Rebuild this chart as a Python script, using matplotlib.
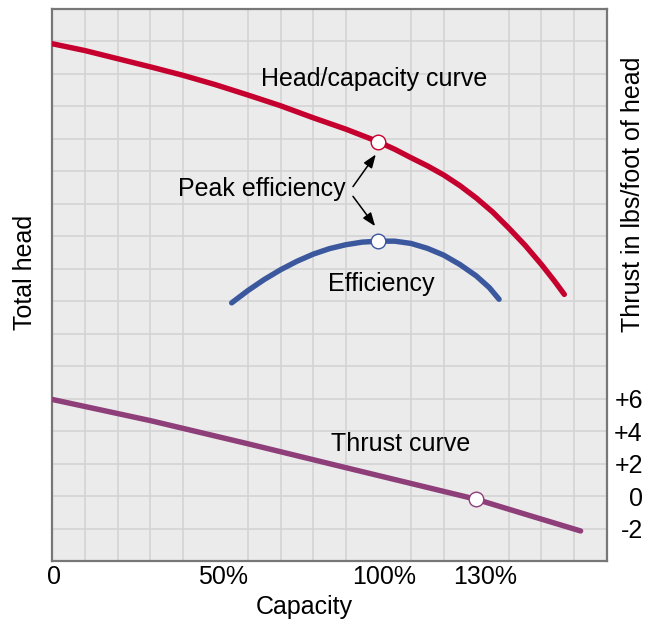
import matplotlib
matplotlib.use("Agg")
import matplotlib.pyplot as plt
from matplotlib.transforms import ScaledTranslation

plt.rcParams['font.family'] = ['Liberation Sans', 'DejaVu Sans']

# Capacity (%) and curve values (head/efficiency in grid units, thrust in lbs/ft of head)
head_x = [0, 10, 20, 30, 40, 50, 60, 70, 80, 90, 100, 105, 110, 115, 120, 125, 130, 135, 140,
          145, 150, 154, 157]
head_y = [15.93, 15.72, 15.47, 15.22, 14.96, 14.67, 14.35, 14.02, 13.65, 13.30, 12.91, 12.68,
          12.42, 12.17, 11.89, 11.56, 11.18, 10.75, 10.25, 9.72, 9.13, 8.62, 8.21]
eff_x = [55, 60, 65, 70, 75, 80, 85, 90, 95, 100, 105, 110, 115, 120, 125, 130, 134, 137]
eff_y = [7.95, 8.33, 8.67, 8.97, 9.23, 9.45, 9.62, 9.74, 9.82, 9.85, 9.85, 9.78, 9.63, 9.42,
         9.13, 8.78, 8.42, 8.06]
thrust_x = [0, 30, 60, 90, 130, 148, 162]
thrust_y = [5.95, 4.65, 3.22, 1.75, -0.2, -1.3, -2.15]

head_peak_idx = 10
eff_peak_idx = 9
thrust_zero_idx = 4

xtick_vals = [0, 50, 100, 130]
xtick_labels = ['0', '50%', '100%', '130%']
thrust_ticks = [-2, 0, 2, 4, 6]
thrust_labels = ['-2', '0', '+2', '+4', '+6']

RED = '#c5002e'
BLUE = '#3b589e'
PURPLE = '#8e3e78'
FS = 18

fig = plt.figure(figsize=(6.5, 6.23), dpi=100)
ax = fig.add_axes([52.3 / 650, 62 / 623, (606.7 - 52.3) / 650, 552 / 623])
ax.set_facecolor('#ebebeb')
ax.set_xlim(0, 170)
ax.set_ylim(0, 17)
ax.set_xticks(range(0, 171, 10), minor=True)
ax.set_yticks(range(0, 18))
ax.grid(True, which='minor', axis='x', color='#d2d2d2', lw=1.1)
ax.grid(True, which='major', axis='y', color='#d2d2d2', lw=1.1)
ax.set_axisbelow(True)
ax.set_xticks(xtick_vals)
ax.set_xticklabels(xtick_labels, fontsize=FS)
ax.set_yticklabels([])
ax.tick_params(axis='both', which='both', length=0)
ax.tick_params(axis='x', pad=3)
offsets = [2, 7.5, 5.5, 9]
for lab, off in zip(ax.get_xticklabels(), offsets):
    lab.set_transform(lab.get_transform() + ScaledTranslation(off / 100, 0, fig.dpi_scale_trans))
for s in ax.spines.values():
    s.set_color('#777777')
    s.set_linewidth(1.6)

ax2 = ax.twinx()
ax2.set_ylim(-4, 30)
ax2.set_yticks(thrust_ticks)
ax2.set_yticklabels(thrust_labels, fontsize=FS, ha='right')
ax2.tick_params(axis='y', length=0, pad=26)
for s in ax2.spines.values():
    s.set_visible(False)

# Curves
ax.plot(head_x, head_y, color=RED, lw=3.9, solid_capstyle='round', solid_joinstyle='round', zorder=3)
ax.plot(eff_x, eff_y, color=BLUE, lw=3.9, solid_capstyle='round', solid_joinstyle='round', zorder=3)
ax2.plot(thrust_x, thrust_y, color=PURPLE, lw=3.9, solid_capstyle='round', solid_joinstyle='round', zorder=3)

ms = 10.5
ax.plot([head_x[head_peak_idx]], [head_y[head_peak_idx]], 'o', ms=ms, mfc='white', mec=RED, mew=1, zorder=4)
ax.plot([eff_x[eff_peak_idx]], [eff_y[eff_peak_idx]], 'o', ms=ms, mfc='white', mec=BLUE, mew=1, zorder=4)
ax2.plot([thrust_x[thrust_zero_idx]], [thrust_y[thrust_zero_idx]], 'o', ms=ms, mfc='white', mec=PURPLE, mew=1, zorder=4)

# Labels inside
ax.text(98.8, 14.63, 'Head/capacity curve', fontsize=FS, ha='center', va='baseline')
ax.text(89.8, 11.25, 'Peak efficiency', fontsize=FS, ha='right', va='baseline')
ax.text(101, 8.31, 'Efficiency', fontsize=FS, ha='center', va='baseline')
ax.text(106.8, 3.38, 'Thrust curve', fontsize=FS, ha='center', va='baseline')

arrow = dict(arrowstyle='-|>,head_length=0.8,head_width=0.3', color='black', lw=1.1,
             shrinkA=0, shrinkB=0)
ax.annotate('', xy=(99.2, 12.52), xytext=(92.2, 11.53), arrowprops=arrow)
ax.annotate('', xy=(99.0, 10.31), xytext=(92.2, 11.23), arrowprops=arrow)

# Axis titles
ax.set_xlabel('Capacity', fontsize=FS)
ax.xaxis.set_label_coords(0.454, -0.0616)
ax.xaxis.label.set_va('top')
fig.text(25 / 650, 1 - 272 / 623, 'Total head', fontsize=FS, rotation=90, ha='center', va='center')
fig.text(633.3 / 650, 1 - 194 / 623, 'Thrust in lbs/foot of head', fontsize=FS, rotation=90,
         ha='center', va='center')

fig.savefig('out.png', dpi=100)
